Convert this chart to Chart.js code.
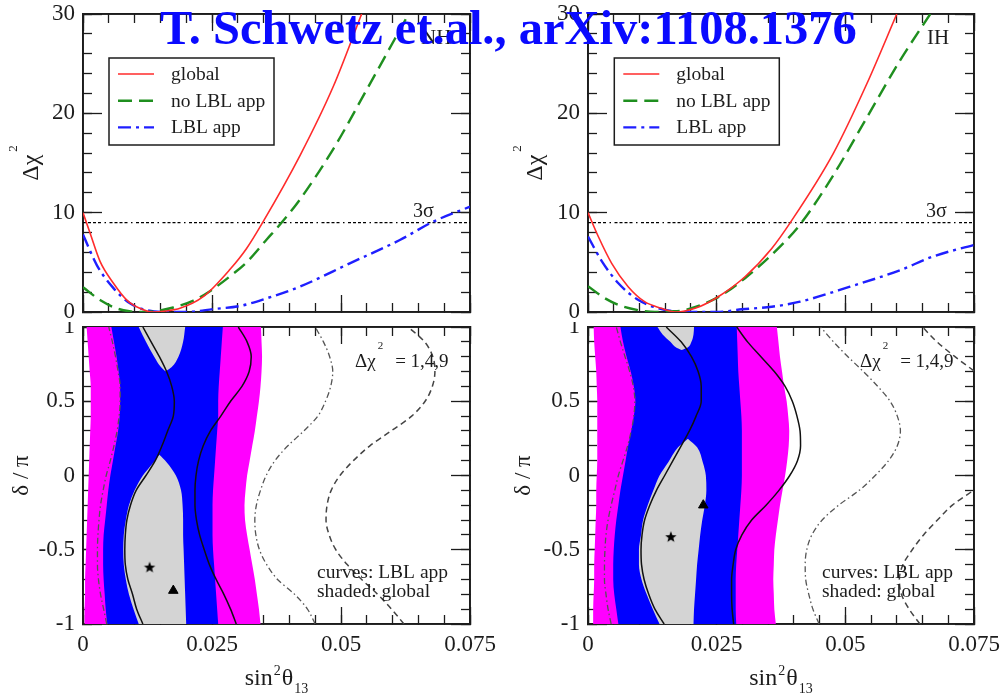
<!DOCTYPE html>
<html>
<head>
<meta charset="utf-8">
<title>sin²θ13 and δ fits</title>
<script src="https://cdn.jsdelivr.net/npm/chart.js@4.4.1/dist/chart.umd.min.js"></script>
<style>
  html, body { margin: 0; padding: 0; background: #fff; }
  #wrap { position: relative; width: 1000px; height: 693px; overflow: hidden; }
  canvas { position: absolute; }
  #title {
    position: absolute; left: 160px; top: 4px; z-index: 5;
    font: bold 48.5px "Liberation Serif", "Times New Roman", serif;
    line-height: 48.5px; color: #0a0aff; white-space: nowrap;
  }
</style>
</head>
<body>
<div id="wrap">
  <canvas id="nhTop" width="500" height="322" style="left:0;top:0"></canvas>
  <canvas id="ihTop" width="500" height="322" style="left:500px;top:0"></canvas>
  <canvas id="nhMap" width="500" height="371" style="left:0;top:322px"></canvas>
  <canvas id="ihMap" width="500" height="371" style="left:500px;top:322px"></canvas>
  <div id="title">T. Schwetz et.al., arXiv:1108.1376</div>
</div>
<script>
// ---- Δχ² profiles vs sin²θ13 ----
const nhGlobalX   = [0, 0.0014, 0.0033, 0.0059, 0.0085, 0.011, 0.0135, 0.016, 0.0188, 0.0233, 0.0285, 0.0317, 0.0348, 0.0421, 0.0485, 0.054];
const nhGlobalChi = [10, 7.9, 5.1, 2.9, 1.2, 0.37, 0, 0.1, 0.37, 1.54, 4.3, 6.4, 9.0, 15.8, 22.7, 30];
const nhNoLblX    = [0, 0.0033, 0.0065, 0.009, 0.0115, 0.014, 0.0175, 0.0214, 0.0246, 0.0285, 0.0317, 0.0356, 0.0385, 0.042, 0.0485, 0.055, 0.0631];
const nhNoLblChi  = [2.5, 1.2, 0.37, 0.07, 0, 0.08, 0.45, 1.15, 2.1, 3.6, 5.0, 7.3, 9.0, 11.3, 16.4, 22.4, 30];
const nhLblX      = [0, 0.0027, 0.0059, 0.0091, 0.0123, 0.016, 0.0207, 0.0253, 0.0304, 0.0356, 0.042, 0.0517, 0.0614, 0.0679, 0.075];
const nhLblChi    = [7.8, 4.7, 2.4, 0.87, 0.2, 0, 0.02, 0.3, 0.6, 1.38, 2.55, 4.9, 7.25, 9.1, 10.6];

const ihGlobalX   = [0, 0.002, 0.0046, 0.0078, 0.011, 0.0143, 0.017, 0.0208, 0.0253, 0.0305, 0.0357, 0.0393, 0.0477, 0.0542, 0.06];
const ihGlobalChi = [10, 7.6, 4.9, 2.55, 1.04, 0.37, 0, 0.37, 1.54, 3.55, 6.4, 9.0, 16, 23, 30];
const ihNoLblX    = [0, 0.0033, 0.0065, 0.0104, 0.013, 0.016, 0.0188, 0.0253, 0.0305, 0.0383, 0.0415, 0.0477, 0.0542, 0.0606, 0.0665];
const ihNoLblChi  = [2.6, 1.38, 0.6, 0.13, 0, 0.05, 0.2, 1.5, 3.4, 7.1, 9.0, 13.8, 19.6, 25.3, 30];
const ihLblX      = [0, 0.0027, 0.0059, 0.0098, 0.0137, 0.0188, 0.025, 0.0299, 0.0357, 0.0412, 0.0509, 0.0606, 0.0671, 0.075];
const ihLblChi    = [7.6, 5.1, 2.9, 1.2, 0.37, 0, 0, 0.27, 0.53, 1.04, 2.55, 4.2, 5.6, 6.75];

// 3σ reference level
const sigmaX   = [0, 0.075];
const sigmaChi = [9, 9];

// ---- allowed regions in (sin²θ13, δ/π) ----
const deltaGrid = [-1, -0.9, -0.8, -0.7, -0.6, -0.5, -0.4, -0.3, -0.2, -0.1, 0, 0.1, 0.2, 0.3, 0.4, 0.5, 0.6, 0.7, 0.8, 0.9, 1];

// normal hierarchy, shaded = global fit
const nh3sLeft  = [0.0003, 0.0003, 0.0004, 0.0004, 0.0005, 0.0006, 0.0007, 0.0008, 0.0009, 0.001, 0.0011, 0.0012, 0.0013, 0.0014, 0.0015, 0.0015, 0.0015, 0.0013, 0.0011, 0.0009, 0.0007];
const nh3sRight = [0.0344, 0.0341, 0.0337, 0.0333, 0.0328, 0.0323, 0.0318, 0.0314, 0.0313, 0.0315, 0.0318, 0.0323, 0.0328, 0.0333, 0.0337, 0.0341, 0.0344, 0.0346, 0.0347, 0.0346, 0.0345];
const nh2sLeft  = [0.0047, 0.0044, 0.0042, 0.004, 0.0039, 0.0039, 0.004, 0.0043, 0.0046, 0.0049, 0.0053, 0.0058, 0.0063, 0.0068, 0.0071, 0.0072, 0.0072, 0.0069, 0.0065, 0.006, 0.0055];
const nh2sRight = [0.0262, 0.026, 0.0258, 0.0256, 0.0254, 0.0252, 0.0251, 0.0251, 0.0251, 0.0252, 0.0254, 0.0256, 0.0258, 0.026, 0.0262, 0.0262, 0.0263, 0.0265, 0.0267, 0.0269, 0.0271];
const nh1sUpperDelta = [0.7, 0.73, 0.8, 0.9, 1];
const nh1sUpperLeft  = [0.016, 0.0151, 0.0138, 0.0122, 0.0108];
const nh1sUpperRight = [0.016, 0.0172, 0.0185, 0.0194, 0.0198];
const nh1sLowerDelta = [-1, -0.9, -0.8, -0.7, -0.6, -0.5, -0.4, -0.3, -0.2, -0.1, 0, 0.09, 0.14];
const nh1sLowerLeft  = [0.0108, 0.0098, 0.0089, 0.0083, 0.0079, 0.0078, 0.0079, 0.0083, 0.0089, 0.01, 0.0116, 0.0137, 0.0148];
const nh1sLowerRight = [0.02, 0.0199, 0.0198, 0.0197, 0.0196, 0.0195, 0.0194, 0.0194, 0.0193, 0.019, 0.018, 0.0162, 0.0148];
// normal hierarchy, curves = LBL appearance only
const nhLbl1Left  = [0.0116, 0.0104, 0.0096, 0.0087, 0.0082, 0.0081, 0.0082, 0.0085, 0.0092, 0.0103, 0.0122, 0.014, 0.0153, 0.0164, 0.0175, 0.0177, 0.0172, 0.0162, 0.0148, 0.0132, 0.0116];
const nhLbl1Right = [0.0297, 0.0286, 0.0273, 0.0258, 0.0245, 0.0235, 0.0226, 0.022, 0.0217, 0.0217, 0.0219, 0.0224, 0.0233, 0.0247, 0.0267, 0.0286, 0.0308, 0.0322, 0.0326, 0.0318, 0.0301];
const nhLbl4Left  = [0.0046, 0.004, 0.0034, 0.003, 0.0028, 0.0028, 0.0029, 0.0031, 0.0034, 0.0039, 0.0045, 0.0053, 0.006, 0.0066, 0.007, 0.0072, 0.0072, 0.0068, 0.0063, 0.0057, 0.005];
const nhLbl4Right = [0.045, 0.0435, 0.041, 0.0377, 0.0356, 0.0342, 0.0335, 0.0333, 0.0336, 0.0344, 0.0355, 0.0372, 0.0397, 0.0428, 0.0455, 0.047, 0.048, 0.0484, 0.0478, 0.0466, 0.045];
const nhLbl9Right = [0.0622, 0.0598, 0.0571, 0.054, 0.0512, 0.049, 0.0477, 0.0471, 0.0473, 0.0481, 0.0498, 0.0524, 0.0556, 0.0597, 0.0637, 0.0663, 0.0677, 0.0682, 0.0678, 0.0662, 0.063];
const nhBestX     = [0.0129, 0.0175];
const nhBestDelta = [-0.62, -0.775];

// inverted hierarchy, shaded = global fit
const ih3sLeft  = [0.001, 0.001, 0.0011, 0.0012, 0.0012, 0.0013, 0.0014, 0.0015, 0.0016, 0.0016, 0.0017, 0.0018, 0.0018, 0.0018, 0.0018, 0.0018, 0.0017, 0.0016, 0.0014, 0.0012, 0.0011];
const ih3sRight = [0.0365, 0.0362, 0.0361, 0.036, 0.0361, 0.0362, 0.0365, 0.0369, 0.0373, 0.0378, 0.0383, 0.0387, 0.039, 0.0391, 0.0389, 0.0386, 0.0381, 0.0377, 0.0373, 0.037, 0.0367];
const ih2sLeft  = [0.0059, 0.0055, 0.0051, 0.0049, 0.0049, 0.005, 0.0052, 0.0055, 0.0059, 0.0063, 0.0068, 0.0073, 0.0078, 0.0084, 0.0089, 0.0092, 0.0089, 0.0083, 0.0075, 0.0068, 0.0063];
const ih2sRight = [0.0288, 0.0287, 0.0287, 0.0287, 0.0288, 0.029, 0.0292, 0.0294, 0.0296, 0.0298, 0.0299, 0.0299, 0.0299, 0.0299, 0.0298, 0.0296, 0.0294, 0.0292, 0.0291, 0.029, 0.0289];
const ih1sUpperDelta = [0.845, 0.86, 0.9, 0.95, 1];
const ih1sUpperLeft  = [0.0182, 0.0172, 0.016, 0.0145, 0.0135];
const ih1sUpperRight = [0.0182, 0.0193, 0.0201, 0.0205, 0.0206];
const ih1sLowerDelta = [-1, -0.9, -0.8, -0.7, -0.6, -0.5, -0.4, -0.3, -0.2, -0.1, 0, 0.09, 0.19, 0.248];
const ih1sLowerLeft  = [0.0139, 0.0126, 0.0114, 0.0104, 0.0099, 0.0099, 0.0103, 0.0107, 0.0116, 0.0127, 0.0139, 0.0156, 0.0175, 0.0194];
const ih1sLowerRight = [0.0205, 0.0206, 0.0208, 0.021, 0.0212, 0.0215, 0.0218, 0.0222, 0.0227, 0.023, 0.0229, 0.0223, 0.0212, 0.0194];
// inverted hierarchy, curves = LBL appearance only
const ihLbl1Left  = [0.0148, 0.013, 0.0118, 0.0109, 0.0104, 0.0103, 0.0105, 0.011, 0.012, 0.0133, 0.0149, 0.0165, 0.0181, 0.0197, 0.021, 0.022, 0.022, 0.0214, 0.0201, 0.0181, 0.0152];
const ihLbl1Right = [0.0283, 0.028, 0.0279, 0.0279, 0.0282, 0.0287, 0.0299, 0.0318, 0.0346, 0.0371, 0.0392, 0.0407, 0.0413, 0.0412, 0.0406, 0.0397, 0.0383, 0.0362, 0.0336, 0.031, 0.0289];
const ihLbl4Left  = [0.0045, 0.0039, 0.0035, 0.0032, 0.0032, 0.0033, 0.0035, 0.0039, 0.0045, 0.0052, 0.0059, 0.0068, 0.0077, 0.0084, 0.0089, 0.0091, 0.0088, 0.0081, 0.0072, 0.0063, 0.0055];
const ihLbl4Right = [0.0449, 0.0437, 0.0429, 0.0423, 0.0422, 0.0425, 0.0435, 0.0455, 0.0487, 0.0527, 0.0558, 0.0584, 0.0601, 0.0607, 0.0601, 0.0587, 0.0563, 0.0535, 0.0505, 0.0477, 0.0452];
const ihLbl9UpperDelta = [0.705, 0.8, 0.9, 1];
const ihLbl9UpperX     = [0.075, 0.0713, 0.0678, 0.065];
const ihLbl9LowerDelta = [-1, -0.9, -0.8, -0.7, -0.6, -0.5, -0.4, -0.3, -0.2, -0.1];
const ihLbl9LowerX     = [0.0645, 0.0624, 0.0609, 0.0605, 0.0612, 0.063, 0.0652, 0.0679, 0.0708, 0.0749];
const ihBestX     = [0.0161, 0.0224];
const ihBestDelta = [-0.415, -0.2];

// axis ranges
const xRange = [0, 0.075];
const chiRange = [0, 30];
const deltaRange = [-1, 1];

const serif = '"Liberation Serif", "Times New Roman", serif';
const ink = '#1c1c1c';

const pts = (xs, ys) => xs.map((x, i) => ({ x, y: ys[i] }));

// draw a run of text pieces (text, size, rise, gap) along one baseline
function rich(ctx, x, y, parts, opts = {}) {
  ctx.save();
  ctx.translate(x, y);
  if (opts.rotate) ctx.rotate(-Math.PI / 2);
  const widths = parts.map(([t, size]) => { ctx.font = size + 'px ' + serif; return ctx.measureText(t).width; });
  const total = parts.reduce((a, p, i) => a + widths[i] + (p[3] || 0), 0);
  let cx = opts.center ? -total / 2 : 0;
  ctx.fillStyle = ink;
  ctx.textBaseline = 'alphabetic';
  parts.forEach(([t, size, rise = 0, gap = 0], i) => {
    cx += gap;
    ctx.font = size + 'px ' + serif;
    ctx.fillText(t, cx, -rise);
    cx += widths[i];
  });
  ctx.restore();
}

// box frame with inward major/minor ticks on all four sides
function frameScales(x, y, geo) {
  const axis = (position, range, step, len, weight, size, fmt, pad) => {
    const s = {
      type: 'linear', position, min: range[0], max: range[1], weight, z: 1,
      ticks: { stepSize: step, display: !!fmt, autoSkip: false, maxRotation: 0, padding: pad || 0,
               color: ink, font: { family: serif, size: 23 } },
      grid: { drawOnChartArea: false, tickLength: -len, tickWidth: 1.3, tickColor: ink },
      border: { color: ink, width: 1.8 },
      afterFit: sc => {
        if (sc.isHorizontal()) sc.height = size; else sc.width = size;
        // the frame is placed by hand, so labels must not push the plot area around
        sc.paddingTop = sc.paddingBottom = sc.paddingLeft = sc.paddingRight = 0;
      }
    };
    if (fmt) s.ticks.callback = fmt;
    return s;
  };
  return {
    x: axis('bottom', x.range, x.major, 17, 1, geo.bottom, geo.xFmt, 24),
    xMinor: axis('bottom', x.range, x.minor, 9, 0, 0),
    xTop: axis('top', x.range, x.major, 17, 1, 0),
    xTopMinor: axis('top', x.range, x.minor, 9, 0, 0),
    y: axis('left', y.range, y.major, 19, 1, geo.left, y.fmt, 27),
    yMinor: axis('left', y.range, y.minor, 9, 0, 0),
    yRight: axis('right', y.range, y.major, 19, 1, 0),
    yRightMinor: axis('right', y.range, y.minor, 9, 0, 0)
  };
}

const xFmt = v => String(+v.toFixed(3));

function baseOptions(geo) {
  return {
    responsive: false, animation: false, events: [],
    layout: { padding: { left: 0, top: geo.top, right: geo.right, bottom: 0 }, autoPadding: false },
    plugins: { legend: { display: false }, tooltip: { enabled: false } },
    elements: { point: { radius: 0 }, line: { cubicInterpolationMode: 'monotone', fill: false } }
  };
}

// ---- top row: Δχ² profiles ----
function profileChart(id, s, geo) {
  const legendRows = [
    { label: 'global', data: pts(s.globalX, s.globalChi), borderColor: '#ff2b2b', borderWidth: 1.6 },
    { label: 'no LBL app', data: pts(s.noLblX, s.noLblChi), borderColor: '#1f8f1f', borderWidth: 2.4, borderDash: [14, 7] },
    { label: 'LBL app', data: pts(s.lblX, s.lblChi), borderColor: '#1f1fff', borderWidth: 2.4, borderDash: [13, 5, 3, 5] }
  ];
  const datasets = legendRows.concat([
    { label: '3σ', data: pts(sigmaX, sigmaChi), borderColor: '#000', borderWidth: 1.3,
      borderDash: [3, 2, 3, 2, 3, 2, 3, 3.5, 1.5, 3.5], cubicInterpolationMode: 'default', order: 5 }
  ]).map(d => Object.assign({ xAxisID: 'x', yAxisID: 'y' }, d));

  const options = baseOptions(geo);
  options.scales = frameScales(
    { range: xRange, major: 0.025, minor: 0.005 },
    { range: chiRange, major: 10, minor: 2, fmt: v => String(v) },
    { left: geo.left, bottom: 10 }
  );

  const decor = {
    id: 'profileDecor',
    afterDraw(chart) {
      const ctx = chart.ctx;
      const b = geo.legend;
      ctx.save();
      ctx.strokeStyle = ink;
      ctx.lineWidth = 1.5;
      ctx.strokeRect(b.x, b.y, 165, 87);
      chart.data.datasets.slice(0, 3).forEach((d, i) => {
        const yy = b.y + 16 + i * 26.7;
        ctx.beginPath();
        ctx.setLineDash(d.borderDash || []);
        ctx.strokeStyle = d.borderColor;
        ctx.lineWidth = d.borderWidth;
        ctx.moveTo(b.x + 9, yy);
        ctx.lineTo(b.x + 45, yy);
        ctx.stroke();
        ctx.setLineDash([]);
        rich(ctx, b.x + 62, yy + 6, [[d.label, 19.5]]);
      });
      ctx.restore();
      rich(ctx, geo.tagX, 44, [[geo.tag, 21]]);
      rich(ctx, geo.sigmaX, 216.5, [['3σ', 20]]);
      rich(ctx, geo.titleX, 163, [['Δχ', 24], ['2', 13, 21, 3]], { rotate: true, center: true });
    }
  };

  return new Chart(document.getElementById(id), { type: 'line', data: { datasets }, options, plugins: [decor] });
}

// five-point star marker for the best-fit point
function starMark(r) {
  const c = document.createElement('canvas');
  c.width = c.height = 2 * r + 2;
  const g = c.getContext('2d');
  g.beginPath();
  for (let i = 0; i < 10; i++) {
    const a = -Math.PI / 2 + i * Math.PI / 5;
    const rr = i % 2 ? r * 0.42 : r;
    g.lineTo(r + 1 + rr * Math.cos(a), r + 1 + rr * Math.sin(a));
  }
  g.closePath();
  g.fillStyle = '#000';
  g.fill();
  return c;
}
const star = starMark(6);

// ---- bottom row: (sin²θ13, δ/π) regions ----
function band(left, right, deltas, color, order) {
  return [
    { data: pts(left, deltas), fill: '+1', backgroundColor: color, borderWidth: 0, order },
    { data: pts(right, deltas), fill: false, borderWidth: 0, order }
  ];
}
const solid = (xs, ds) => ({ data: pts(xs, ds), borderColor: '#111', borderWidth: 1.5, order: 1 });
const dashDot = (xs, ds) => ({ data: pts(xs, ds), borderColor: '#555', borderWidth: 1.3, borderDash: [6, 3, 1.5, 3], order: 1 });
const dashed = (xs, ds) => ({ data: pts(xs, ds), borderColor: '#444', borderWidth: 1.5, borderDash: [6, 4], order: 1 });

function regionChart(id, r, geo) {
  const datasets = [].concat(
    band(r.s3Left, r.s3Right, deltaGrid, '#ff00ff', 30),
    band(r.s2Left, r.s2Right, deltaGrid, '#0000ff', 20),
    band(r.s1UpperLeft, r.s1UpperRight, r.s1UpperDelta, '#d4d4d4', 10),
    band(r.s1LowerLeft, r.s1LowerRight, r.s1LowerDelta, '#d4d4d4', 10),
    [solid(r.lbl1Left, deltaGrid), solid(r.lbl1Right, deltaGrid),
     dashDot(r.lbl4Left, deltaGrid), dashDot(r.lbl4Right, deltaGrid)],
    r.lbl9.map(c => dashed(c.x, c.delta)),
    [{ data: pts(r.bestX, r.bestDelta), showLine: false, order: 0,
       pointStyle: [star, 'triangle'], pointRadius: [6, 5.5],
       pointBackgroundColor: '#000', pointBorderColor: '#000', pointBorderWidth: 1 }]
  ).map(d => Object.assign({ xAxisID: 'x', yAxisID: 'y' }, d));

  const options = baseOptions(geo);
  options.indexAxis = 'y';
  options.scales = frameScales(
    { range: xRange, major: 0.025, minor: 0.005 },
    { range: deltaRange, major: 0.5, minor: 0.1, fmt: v => String(+v.toFixed(1)) },
    { left: geo.left, bottom: 69, xFmt }
  );

  const decor = {
    id: 'regionDecor',
    afterDraw(chart) {
      const ctx = chart.ctx;
      const a = chart.chartArea;
      rich(ctx, geo.noteX, 45, [['Δχ', 19], ['2', 11, 18, 2], ['= 1,4,9', 19, 0, 12]]);
      rich(ctx, geo.keyX, 256, [['curves: LBL app', 19.5]]);
      rich(ctx, geo.keyX, 275.3, [['shaded: global', 19.5]]);
      rich(ctx, geo.titleX, (a.top + a.bottom) / 2, [['δ / π', 23]], { rotate: true, center: true });
      rich(ctx, (a.left + a.right) / 2, 363,
        [['sin', 24], ['2', 14, 10, 1], ['θ', 24, 0, 1], ['13', 14, -8, 1]], { center: true });
    }
  };

  return new Chart(document.getElementById(id), { type: 'line', data: { datasets }, options, plugins: [decor] });
}

profileChart('nhTop', {
  globalX: nhGlobalX, globalChi: nhGlobalChi, noLblX: nhNoLblX, noLblChi: nhNoLblChi, lblX: nhLblX, lblChi: nhLblChi
}, { left: 83, right: 30, top: 14, legend: { x: 109, y: 58 }, tag: 'NH', tagX: 421, sigmaX: 413, titleX: 38 });

profileChart('ihTop', {
  globalX: ihGlobalX, globalChi: ihGlobalChi, noLblX: ihNoLblX, noLblChi: ihNoLblChi, lblX: ihLblX, lblChi: ihLblChi
}, { left: 88, right: 26, top: 14, legend: { x: 114.3, y: 58 }, tag: 'IH', tagX: 427, sigmaX: 426, titleX: 41.7 });

regionChart('nhMap', {
  s3Left: nh3sLeft, s3Right: nh3sRight, s2Left: nh2sLeft, s2Right: nh2sRight,
  s1UpperDelta: nh1sUpperDelta, s1UpperLeft: nh1sUpperLeft, s1UpperRight: nh1sUpperRight,
  s1LowerDelta: nh1sLowerDelta, s1LowerLeft: nh1sLowerLeft, s1LowerRight: nh1sLowerRight,
  lbl1Left: nhLbl1Left, lbl1Right: nhLbl1Right, lbl4Left: nhLbl4Left, lbl4Right: nhLbl4Right,
  lbl9: [{ x: nhLbl9Right, delta: deltaGrid }],
  bestX: nhBestX, bestDelta: nhBestDelta
}, { left: 83, right: 30, top: 5, noteX: 355, keyX: 317, titleX: 28 });

regionChart('ihMap', {
  s3Left: ih3sLeft, s3Right: ih3sRight, s2Left: ih2sLeft, s2Right: ih2sRight,
  s1UpperDelta: ih1sUpperDelta, s1UpperLeft: ih1sUpperLeft, s1UpperRight: ih1sUpperRight,
  s1LowerDelta: ih1sLowerDelta, s1LowerLeft: ih1sLowerLeft, s1LowerRight: ih1sLowerRight,
  lbl1Left: ihLbl1Left, lbl1Right: ihLbl1Right, lbl4Left: ihLbl4Left, lbl4Right: ihLbl4Right,
  lbl9: [{ x: ihLbl9UpperX, delta: ihLbl9UpperDelta }, { x: ihLbl9LowerX, delta: ihLbl9LowerDelta }],
  bestX: ihBestX, bestDelta: ihBestDelta
}, { left: 88, right: 26, top: 5, noteX: 360, keyX: 322, titleX: 30 });
</script>
</body>
</html>
